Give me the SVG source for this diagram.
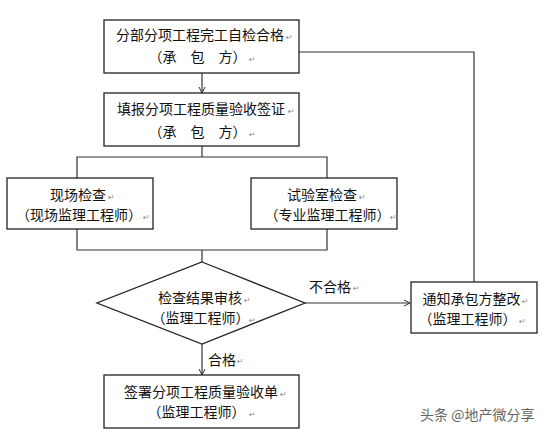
<svg xmlns="http://www.w3.org/2000/svg" width="544" height="437" viewBox="0 0 544 437">
<style>
.box{fill:#fff;stroke:#222;stroke-width:1.3}
.ln{fill:none;stroke:#333;stroke-width:1.2}
.t{font-family:"Noto Sans CJK SC","Noto Sans",sans-serif;font-size:14px;fill:#111;text-anchor:middle}
.p{font-family:"DejaVu Sans",sans-serif;font-size:8px;fill:#888}
.wm{font-family:"Noto Sans CJK SC","Noto Sans",sans-serif;font-size:14px;fill:#666}
</style>
<defs>
<marker id="ah" markerWidth="8" markerHeight="8" refX="7" refY="4" orient="auto" markerUnits="userSpaceOnUse">
<path d="M1,1 L7,4 L1,7" fill="none" stroke="#333" stroke-width="1"/>
</marker>
</defs>
<rect width="544" height="437" fill="#fff"/>
<g id="connectors">
<line class="ln" x1="202" y1="73" x2="202" y2="93" marker-end="url(#ah)"/>
<polyline class="ln" points="202,146 202,157"/>
<polyline class="ln" points="77,178 77,157 327,157 327,178"/>
<polyline class="ln" points="77,229 77,250 327,250 327,229"/>
<line class="ln" x1="202" y1="250" x2="202" y2="262"/>
<line class="ln" x1="305" y1="303" x2="410" y2="303" marker-end="url(#ah)"/>
<polyline class="ln" points="474,282 474,52 299,52"/>
<line class="ln" x1="202" y1="344" x2="202" y2="375" marker-end="url(#ah)"/>
<text class="t" x="330" y="292">不合格</text><text class="p" x="353" y="291">↵</text>
<text class="t" x="222" y="365">合格</text><text class="p" x="237" y="364">↵</text>
</g>
<g id="n1">
<rect class="box" x="104" y="20" width="195" height="53"/>
<text class="t" x="200" y="40">分部分项工程完工自检合格</text><text class="p" x="286" y="40">↵</text>
<text class="t" x="197.5" y="62">（承　包　方）</text><text class="p" x="249" y="62">↵</text>
</g>
<g id="n2">
<rect class="box" x="104" y="93" width="195" height="53"/>
<text class="t" x="201" y="114">填报分项工程质量验收签证</text><text class="p" x="288" y="114">↵</text>
<text class="t" x="197.5" y="137">（承　包　方）</text><text class="p" x="249" y="137">↵</text>
</g>
<g id="n3">
<rect class="box" x="7" y="178" width="146" height="51"/>
<text class="t" x="78" y="200">现场检查</text><text class="p" x="108" y="200">↵</text>
<text class="t" x="79" y="220">（现场监理工程师）</text><text class="p" x="143" y="220">↵</text>
</g>
<g id="n4">
<rect class="box" x="251" y="178" width="146" height="51"/>
<text class="t" x="322" y="200">试验室检查</text><text class="p" x="359" y="200">↵</text>
<text class="t" x="327.5" y="220">（专业监理工程师）</text><text class="p" x="390" y="220">↵</text>
</g>
<g id="n5">
<polygon class="box" points="202,262 305,303 202,344 97,303"/>
<text class="t" x="200" y="303">检查结果审核</text><text class="p" x="244" y="303">↵</text>
<text class="t" x="200.5" y="323">（监理工程师）</text><text class="p" x="249" y="323">↵</text>
</g>
<g id="n6">
<rect class="box" x="411" y="282" width="126" height="51"/>
<text class="t" x="471.5" y="304">通知承包方整改</text><text class="p" x="522" y="304">↵</text>
<text class="t" x="467.5" y="324">（监理工程师）</text><text class="p" x="519" y="324">↵</text>
</g>
<g id="n7">
<rect class="box" x="104" y="375" width="195" height="53"/>
<text class="t" x="201" y="397">签署分项工程质量验收单</text><text class="p" x="280" y="397">↵</text>
<text class="t" x="196.5" y="417">（监理工程师）</text><text class="p" x="249" y="417">↵</text>
</g>
<text class="wm" x="420" y="420">头条 @地产微分享</text>
</svg>
